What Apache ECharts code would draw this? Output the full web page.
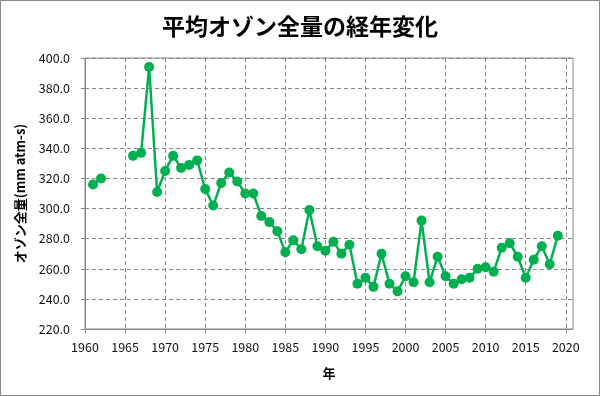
<!DOCTYPE html>
<html><head><meta charset="utf-8">
<script src="https://cdn.jsdelivr.net/npm/echarts@6/dist/echarts.min.js"></script>
<style>html,body{margin:0;padding:0;background:#fff}#c{width:600px;height:396px}</style>
</head><body><div id="c"></div>
<script>
const years = [1961,1962,1963,1964,1965,1966,1967,1968,1969,1970,1971,1972,1973,1974,1975,1976,1977,1978,1979,1980,1981,1982,1983,1984,1985,1986,1987,1988,1989,1990,1991,1992,1993,1994,1995,1996,1997,1998,1999,2000,2001,2002,2003,2004,2005,2006,2007,2008,2009,2010,2011,2012,2013,2014,2015,2016,2017,2018,2019];
const ozone = [316,320,null,null,null,335,337,394,311,325,335,327,329,332,313,302,317,324,318,310,310,295,291,285,271,279,273,299,275,272,278,270,276,250,254,248,270,250,245,255,251,292,251,268,255,250,253,254,260,261,258,274,277,268,254,266,275,263,282];
const xTicks = [1960,1965,1970,1975,1980,1985,1990,1995,2000,2005,2010,2015,2020];
const titleText = '平均オゾン全量の経年変化';
const yName = 'オゾン全量(mm atm-s)';
const xName = '年';

const font = '"Noto Sans CJK JP", sans-serif';
const chart = echarts.init(document.getElementById('c'));
chart.setOption({
  animation: false,
  textStyle: {fontFamily: font},
  title: {text: titleText, left: 'center', top: 10,
    textStyle: {fontFamily: font, fontSize: 23, fontWeight: 'bold', color: '#000'}},
  graphic: [{type: 'rect', shape: {x: 0.5, y: 0.5, width: 599, height: 395},
    style: {fill: 'none', stroke: '#888', lineWidth: 1}, silent: true}],
  grid: {left: 85, right: 27, top: 58, bottom: 67, show: true,
    borderColor: '#888', borderWidth: 1},
  xAxis: {type: 'value', min: 1960, max: 2020.9, interval: 5,
    name: xName, nameLocation: 'middle', nameGap: 38,
    nameTextStyle: {fontFamily: font, fontSize: 13, fontWeight: 'bold', color: '#000'},
    axisLine: {show: true, lineStyle: {color: '#888'}},
    axisTick: {show: true, length: 4, customValues: xTicks, lineStyle: {color: '#888'}},
    axisLabel: {customValues: xTicks, formatter: v => String(v), fontSize: 12.5, color: '#111', margin: 12, fontFamily: font},
    splitLine: {show: true, lineStyle: {color: '#888', type: [4, 3]}}},
  yAxis: {type: 'value', min: 220, max: 400, interval: 20,
    name: yName, nameLocation: 'middle', nameGap: 58, nameRotate: 90,
    nameTextStyle: {fontFamily: font, fontSize: 13, fontWeight: 'bold', color: '#000'},
    axisLine: {show: true, lineStyle: {color: '#888'}},
    axisTick: {show: true, length: 4, lineStyle: {color: '#888'}},
    axisLabel: {formatter: v => v.toFixed(1), fontSize: 12.5, color: '#111', margin: 15, fontFamily: font},
    splitLine: {show: true, lineStyle: {color: '#888', type: [4, 3]}}},
  series: [{type: 'line', data: years.map((y, i) => [y, ozone[i]]),
    connectNulls: false, symbol: 'circle', symbolSize: 10,
    lineStyle: {color: '#00B050', width: 2.5},
    itemStyle: {color: '#00B050'}}]
});
</script></body></html>
